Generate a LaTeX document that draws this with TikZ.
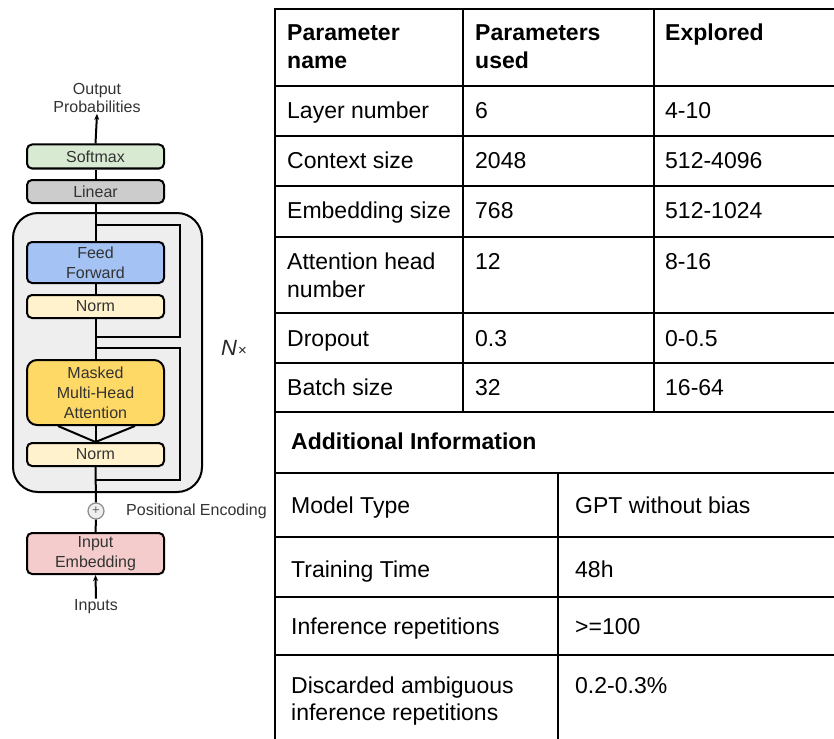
\documentclass[tikz,border=0pt]{standalone}
\usepackage{fontspec}
\setmainfont{Liberation Sans}
\usetikzlibrary{arrows.meta}
\definecolor{smx}{HTML}{D9EAD3}
\definecolor{lin}{HTML}{CCCCCC}
\definecolor{ffw}{HTML}{A4C2F4}
\definecolor{nrm}{HTML}{FFF2CC}
\definecolor{mha}{HTML}{FFD966}
\definecolor{emb}{HTML}{F4CCCC}
\definecolor{stk}{HTML}{EEEEEE}
\definecolor{dtxt}{HTML}{333333}
\begin{document}
\begin{tikzpicture}[x=1pt,y=-1pt,
  blk/.style={draw=black, line width=2pt, rounded corners=5pt, minimum width=137pt,
     inner sep=0pt, align=center, text=dtxt, font=\fontsize{16}{20}\selectfont},
  lbl/.style={text=dtxt, font=\fontsize{16}{18}\selectfont, inner sep=1pt, align=center},
  wire/.style={line width=2pt, draw=black},
  grid/.style={line width=2.6pt, draw=black, line cap=rect},
  cell/.style={anchor=base west, inner sep=0pt, font=\fontsize{23}{28}\selectfont},
  hcell/.style={cell, font=\fontsize{23}{28}\selectfont\bfseries}]
\useasboundingbox (0,0) rectangle (834,738);

% ---------- left diagram ----------
\node[draw=black, line width=2pt, fill=stk, rounded corners=25pt, minimum width=189pt,
      minimum height=279pt, inner sep=0pt] (stack) at (107.5,352.5) {};

\node[blk, fill=smx, minimum height=24pt] (softmax) at (95.5,156.5) {Softmax};
\node[blk, fill=lin, minimum height=23pt] (linear) at (95.5,191.5) {Linear};
\node[blk, fill=ffw, minimum height=41pt] (ff) at (95.5,262.5) {Feed\\Forward};
\node[blk, fill=nrm, minimum height=23pt] (norm1) at (95.5,306.5) {Norm};
\node[blk, fill=mha, minimum height=65pt, rounded corners=10pt] (mha) at (95.5,392.5) {Masked\\Multi-Head\\Attention};
\node[blk, fill=nrm, minimum height=23pt] (norm2) at (95.5,454.5) {Norm};
\node[blk, fill=emb, minimum height=41pt] (inemb) at (95.5,553.5) {Input\\Embedding};
\node[circle, draw=black!45, fill=stk, line width=1.2pt, minimum size=16pt, inner sep=0pt,
      text=black!60, font=\fontsize{13}{13}\selectfont] (plus) at (96,511) {+};

\node[lbl] (outp) at (97,98) {Output\\Probabilities};
\node[lbl] (inputs) at (96,607) {Inputs};
\node[lbl, anchor=west, inner sep=0pt] (posenc) at (126,511) {Positional Encoding};
\node[text=black!85, font=\fontsize{22}{22}\selectfont] (nx) at (234,348) {\textit{N}\kern1pt{\fontsize{15}{15}\selectfont×}};

\draw[wire, -{Stealth[length=6pt,width=5pt]}] (softmax.north) -- (outp.south);
\draw[wire] (linear.north) -- (softmax.south);
\draw[wire] (ff.north) -- (linear.south);
\draw[wire] (norm1.north) -- (ff.south);
\draw[wire] (mha.north) -- (norm1.south);
\draw[wire] (mha.south -| 58,0) -- (norm2.north);
\draw[wire] (mha.south) -- (norm2.north);
\draw[wire] (mha.south -| 135,0) -- (norm2.north);
\draw[wire] (norm2.south) -- (plus.north);
\draw[wire] (inemb.north) -- (plus.south);
\draw[wire, -{Stealth[length=6pt,width=5pt]}] (inputs.north) -- (inemb.south);

\coordinate (r1a) at (96,225);
\coordinate (r1b) at (96,337);
\coordinate (r2a) at (96,348);
\coordinate (r2b) at (96,480);
\draw[wire] (r1a) -- (180,225) -- (180,337) -- (r1b);
\draw[wire] (r2a) -- (180,348) -- (180,480) -- (r2b);

% ---------- table ----------
\draw[grid] (834,9) -- (275,9) -- (275,745);
\foreach \yy in {86,136,186,237,313,363,412,473,537,597,655}
  \draw[grid] (275,\yy) -- (840,\yy);
\draw[grid] (463,9) -- (463,412);
\draw[grid] (654,9) -- (654,412);
\draw[grid] (558,473) -- (558,745);

\node[hcell] (h1a) at (287,41) {Parameter};
\node[hcell] (h1b) at (287,69) {name};
\node[hcell] (h2a) at (475,41) {Parameters};
\node[hcell] (h2b) at (475,69) {used};
\node[hcell] (h3a) at (665,41) {Explored};

\node[cell] (a1) at (287,119) {Layer number};
\node[cell] (b1) at (475,119) {6};
\node[cell] (c1) at (665,119) {4-10};
\node[cell] (a2) at (287,168) {Context size};
\node[cell] (b2) at (475,168) {2048};
\node[cell] (c2) at (665,168) {512-4096};
\node[cell] (a3) at (287,218) {Embedding size};
\node[cell] (b3) at (475,218) {768};
\node[cell] (c3) at (665,218) {512-1024};
\node[cell] (a4) at (287,269) {Attention head};
\node[cell] (a4b) at (287,297) {number};
\node[cell] (b4) at (475,269) {12};
\node[cell] (c4) at (665,269) {8-16};
\node[cell] (a5) at (287,346) {Dropout};
\node[cell] (b5) at (475,346) {0.3};
\node[cell] (c5) at (665,346) {0-0.5};
\node[cell] (a6) at (287,395) {Batch size};
\node[cell] (b6) at (475,395) {32};
\node[cell] (c6) at (665,395) {16-64};

\node[hcell] (addi) at (291,449) {Additional Information};
\node[cell] (d1) at (291,513) {Model Type};
\node[cell] (e1) at (575,513) {GPT without bias};
\node[cell] (d2) at (291,577) {Training Time};
\node[cell] (e2) at (575,577) {48h};
\node[cell] (d3) at (291,634) {Inference repetitions};
\node[cell] (e3) at (575,634) {>=100};
\node[cell] (d4) at (291,693) {Discarded ambiguous};
\node[cell] (d4b) at (291,720) {inference repetitions};
\node[cell] (e4) at (575,693) {0.2-0.3\%};
\end{tikzpicture}
\end{document}
